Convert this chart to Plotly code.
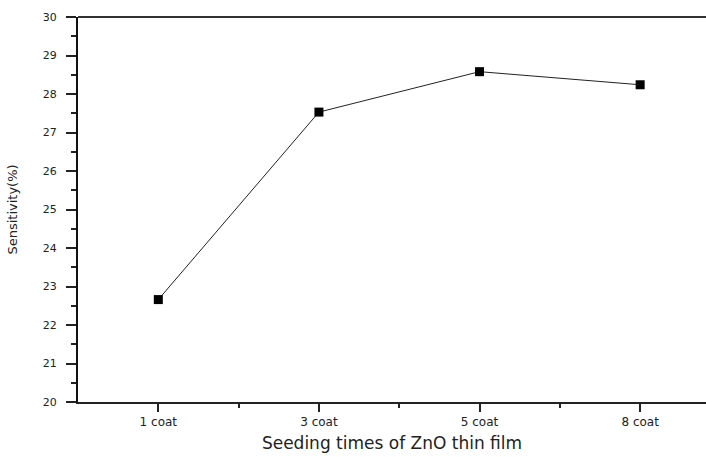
import plotly.graph_objects as go

categories = ["1 coat", "3 coat", "5 coat", "8 coat"]
sensitivity = [22.66, 27.53, 28.58, 28.24]
y_ticks = [20, 21, 22, 23, 24, 25, 26, 27, 28, 29, 30]

fig = go.Figure()
fig.add_trace(go.Scatter(
    x=categories, y=sensitivity, mode="lines+markers",
    line=dict(color="#222222", width=1),
    marker=dict(symbol="square", size=9, color="black"),
    showlegend=False,
))

font_family = "DejaVu Sans"
fig.add_shape(type="line", xref="paper", yref="paper", x0=0, x1=1, y0=1, y1=1,
              line=dict(color="#333333", width=2))
fig.update_layout(
    width=706, height=457,
    margin=dict(l=78, r=0, t=17, b=55),
    paper_bgcolor="white", plot_bgcolor="white",
    font=dict(family=font_family, color="#222222"),
    xaxis=dict(
        type="category", range=[-0.5, 3.41],
        showline=True, linecolor="#222222", linewidth=2, mirror=False,
        ticks="outside", ticklen=8, tickwidth=2, tickcolor="#222222",
        showgrid=False, zeroline=False,
        tickfont=dict(size=12, family=font_family),
        minor=dict(tickmode="array", tickvals=[0.5, 1.5, 2.5], ticks="outside", ticklen=4, tickwidth=2, tickcolor="#222222"),
        title=dict(text="Seeding times of ZnO thin film", font=dict(size=17, family=font_family), standoff=9),
    ),
    yaxis=dict(
        range=[20, 30], tickvals=y_ticks,
        showline=True, linecolor="#111111", linewidth=2,
        ticks="outside", ticklen=10, tickwidth=1.5, tickcolor="#222222",
        minor=dict(dtick=0.5, tick0=20, ticks="outside", ticklen=5, tickwidth=1.5, tickcolor="#222222"),
        showgrid=False, zeroline=False,
        tickfont=dict(size=11, family=font_family),
        ticklabelstandoff=7,
        title=dict(text="Sensitivity(%)", font=dict(size=13, family=font_family), standoff=22),
    ),
)

fig.write_html(
    "out.html",
    config={"displayModeBar": False},
    post_script="document.body.style.margin='0';document.body.style.overflow='hidden';document.documentElement.style.overflow='hidden';",
)
